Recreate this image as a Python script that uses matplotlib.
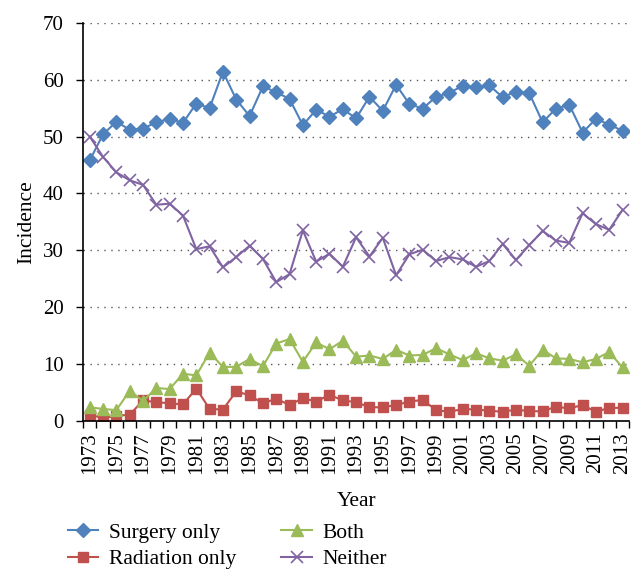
import numpy as np
import matplotlib
matplotlib.use("Agg")
import matplotlib.pyplot as plt

plt.rcParams['font.family'] = ['Liberation Serif', 'DejaVu Serif']

# data
years = list(range(1973, 2014))
surgery = [45.8, 50.4, 52.6, 51.2, 51.4, 52.5, 53.1, 52.4, 55.8, 55.0,
           61.4, 56.5, 53.6, 58.8, 57.8, 56.6, 52.0, 54.7, 53.5, 54.8,
           53.2, 57.0, 54.5, 59.1, 55.7, 54.9, 57.0, 57.7, 58.9, 58.7,
           59.0, 56.9, 57.9, 57.6, 52.5, 54.9, 55.6, 50.7, 53.1, 52.1, 51.0]
radiation = [1.1, 0.5, 0.9, 1.1, 3.6, 3.3, 3.1, 2.9, 5.7, 2.1,
             2.0, 5.2, 4.5, 3.1, 3.9, 2.8, 4.0, 3.4, 4.6, 3.6,
             3.3, 2.4, 2.4, 2.8, 3.4, 3.7, 1.9, 1.6, 2.1, 2.0,
             1.8, 1.6, 2.0, 1.7, 1.7, 2.5, 2.2, 2.8, 1.6, 2.3, 2.3]
both = [2.4, 2.1, 1.9, 5.3, 3.5, 5.8, 5.6, 8.3, 8.0, 12.0,
        9.5, 9.5, 10.9, 9.6, 13.6, 14.4, 10.4, 13.8, 12.6, 14.1,
        11.3, 11.5, 10.9, 12.5, 11.5, 11.6, 12.8, 11.7, 10.7, 11.9,
        11.0, 10.6, 11.7, 9.7, 12.5, 11.0, 10.9, 10.3, 10.9, 12.1, 9.4]
neither = [50.0, 46.4, 43.7, 42.3, 41.5, 38.0, 38.2, 36.1, 30.2, 30.7,
           27.0, 28.8, 30.8, 28.5, 24.4, 25.8, 33.5, 28.0, 29.4, 27.1,
           32.3, 28.9, 32.2, 25.6, 29.3, 30.1, 28.1, 28.8, 28.4, 27.1,
           28.1, 31.1, 28.3, 30.9, 33.4, 31.7, 31.3, 36.5, 34.6, 33.6, 37.1]

fig = plt.figure(figsize=(6.44, 5.83), dpi=100)
ax = fig.add_axes([0.129, 0.278, 0.848, 0.683])

x = np.arange(len(years))
ax.plot(x, surgery, color='#4F81BD', marker='D', markersize=7.5, lw=1.5, label='Surgery only')
ax.plot(x, radiation, color='#C0504D', marker='s', markersize=7.5, lw=1.5, label='Radiation only')
ax.plot(x, both, color='#9BBB59', marker='^', markersize=8.5, lw=1.5, label='Both')
ax.plot(x, neither, color='#8064A2', marker='x', markersize=9, mew=1.2, lw=1.5, label='Neither')

ax.set_xlim(-0.5, len(years) - 0.5)
ax.set_ylim(0, 70)
ax.set_yticks(range(0, 71, 10))
ax.yaxis.grid(True, linestyle=(0, (1, 4)), color='#555555', lw=1)
ax.set_axisbelow(True)

ax.set_xticks(x[::2])
ax.set_xticklabels([str(y) for y in years[::2]], rotation=90)
ax.set_xticks(np.arange(-0.5, len(years), 1), minor=True)
ax.tick_params(axis='x', which='major', length=0, labelsize=15, pad=8)
ax.tick_params(axis='x', which='minor', length=5, width=1)
ax.tick_params(axis='y', length=5, width=1, labelsize=15, pad=9)

for s in ['top', 'right']:
    ax.spines[s].set_visible(False)
for s in ['left', 'bottom']:
    ax.spines[s].set_linewidth(1.2)

ax.set_ylabel('Incidence', fontsize=15.5, labelpad=5)
ax.set_xlabel('Year', fontsize=15.5, labelpad=13)

fig.legend(loc='upper left', bbox_to_anchor=(0.089, 0.122), ncol=2, frameon=False,
           fontsize=15.5, columnspacing=2.1, handlelength=1.4, labelspacing=0.3,
           handletextpad=0.5, borderpad=0)

fig.savefig('out.png', dpi=100)
